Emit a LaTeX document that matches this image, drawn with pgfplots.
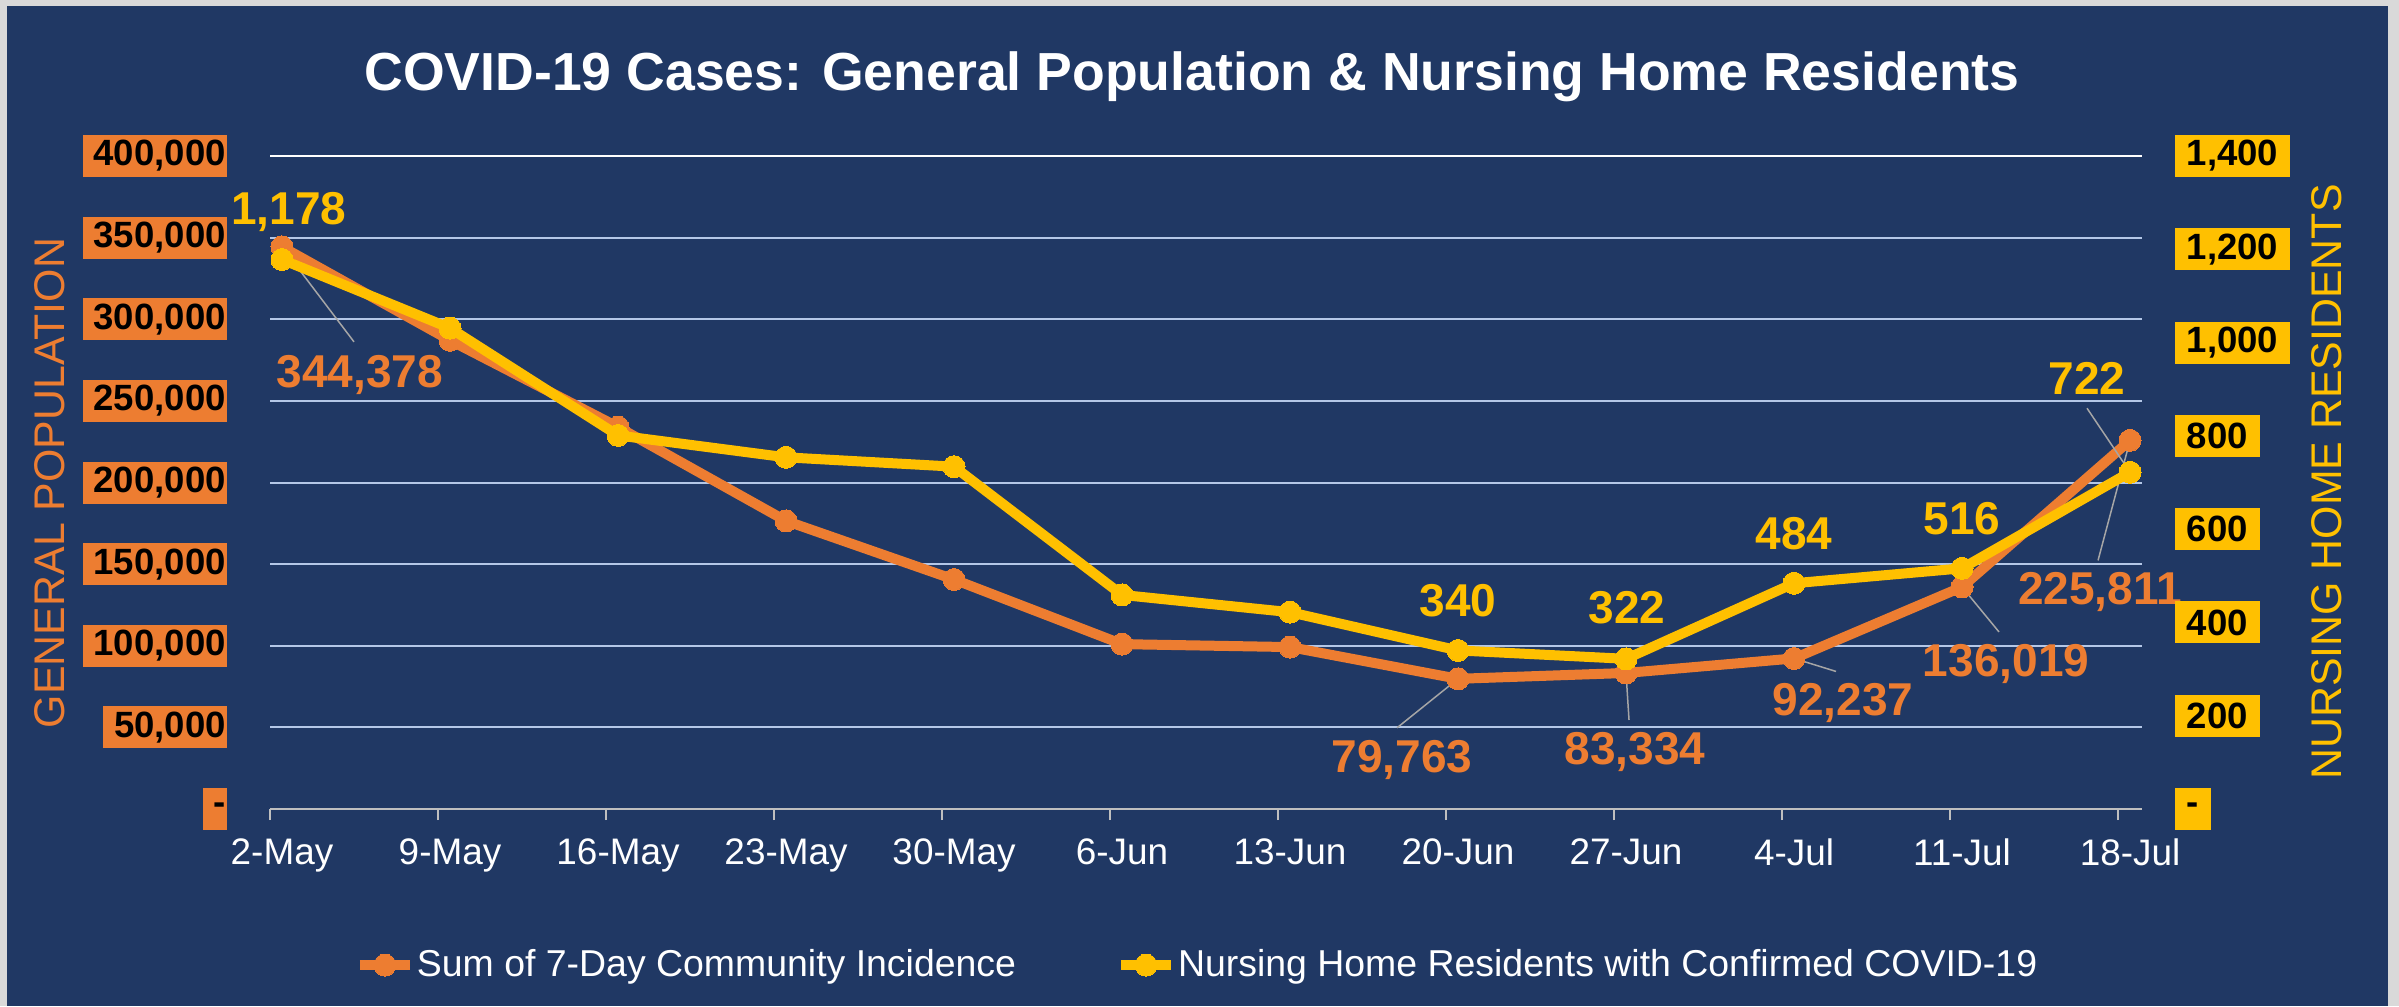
\documentclass[border=0pt]{standalone}
\usepackage{fontspec}
\setmainfont{Liberation Sans}
\usepackage{pgfplots}
\pgfplotsset{compat=1.18}
\definecolor{bg}{HTML}{203864}
\definecolor{org}{HTML}{ED7D31}
\definecolor{yel}{HTML}{FFC000}
\definecolor{grd}{HTML}{B4C7E7}
\definecolor{frm}{HTML}{D9D9D9}
\definecolor{axl}{HTML}{BFBFBF}
\definecolor{ldr}{HTML}{A6A6A6}
\newcommand\tickfont{\fontsize{10.4pt}{12pt}\selectfont}
\newcommand\lblfont{\fontsize{13.1pt}{15pt}\selectfont\bfseries}
\newcommand\LL[1]{\hbox{\hspace*{0.11cm}#1\hspace*{0.015cm}}}
\pgfplotsset{
  base/.style={at={(2.70cm,1.97cm)}, anchor=south west,
    width=18.72cm, height=6.53cm, scale only axis,
    xmin=-0.0714, xmax=11.0714, clip=false, major tick length=0pt,
    scaled y ticks=false},
  orgline/.style={color=org, line width=0.1cm, line join=round, mark=*, mark size=0.11cm, mark options={fill=org, draw=org, line width=0pt}},
  yelline/.style={color=yel, line width=0.1cm, line join=round, mark=*, mark size=0.11cm, mark options={fill=yel, draw=yel, line width=0pt}},
}
\begin{document}
\begin{tikzpicture}
\path[use as bounding box] (0,0) rectangle (23.99,10.06);
\fill[frm] (0,0) rectangle (23.99,10.06);
\fill[bg] (0.07,0) rectangle (23.88,10.00);
\node[anchor=base, text=white, font=\fontsize{15.25pt}{18pt}\selectfont\bfseries] at (11.92,9.16) {COVID-19 Cases: General Population \& Nursing Home Residents};
\node[rotate=90, text=org, font=\fontsize{12.2pt}{14pt}\selectfont, inner sep=0pt] at (0.50,5.23) {GENERAL POPULATION};
\node[rotate=90, text=yel, font=\fontsize{12.2pt}{14pt}\selectfont, inner sep=0pt] at (23.27,5.24) {NURSING HOME RESIDENTS};

\begin{axis}[base,
  ymin=0, ymax=400000,
  axis x line*=bottom, axis y line*=left,
  x axis line style={draw=axl, line width=0.02cm, -},
  y axis line style={draw=none},
  xtick={0,1,2,3,4,5,6,7,8,9,10,11},
  xticklabels={2-May,9-May,16-May,23-May,30-May,6-Jun,13-Jun,20-Jun,27-Jun,4-Jul,11-Jul,18-Jul},
  xticklabel style={text=white, font=\fontsize{10.5pt}{12pt}\selectfont, anchor=north, inner sep=0pt, yshift=-0.29cm},
  extra x ticks={-0.0714,0.9286,1.9286,2.9286,3.9286,4.9286,5.9286,6.9286,7.9286,8.9286,9.9286,10.9286},
  extra x tick labels={},
  extra x tick style={tick align=outside, major tick length=0.11cm, tick style={draw=axl, line width=0.02cm}},
  ytick={0,50000,100000,150000,200000,250000,300000,350000,400000},
  yticklabels={\LL{-},\LL{50,000},\LL{100,000},\LL{150,000},\LL{200,000},\LL{250,000},\LL{300,000},\LL{350,000},\LL{400,000}},
  yticklabel style={font=\tickfont\bfseries, text=black, fill=org, inner xsep=0pt, inner ysep=0pt,
    minimum height=0.42cm, anchor=east, xshift=-0.42cm},
  ymajorgrids, grid style={draw=grd, line width=0.02cm},
  extra y ticks={400000}, extra y tick labels={},
  extra y tick style={grid style={draw=white, line width=0.02cm}},
]
\addplot[orgline] coordinates {(0,344378) (1,287100) (2,234000) (3,176500) (4,140600) (5,101000) (6,99200) (7,79763) (8,83334) (9,92237) (10,136019) (11,225811)};
\draw[ldr, line width=0.015cm] (axis cs:0,344378) -- ([shift={(0.72cm,-0.95cm)}]axis cs:0,344378);
\draw[ldr, line width=0.015cm] (axis cs:7,79763) -- ([shift={(-0.61cm,-0.49cm)}]axis cs:7,79763);
\draw[ldr, line width=0.015cm] (axis cs:8,83334) -- ([shift={(0.03cm,-0.47cm)}]axis cs:8,83334);
\draw[ldr, line width=0.015cm] (axis cs:9,92237) -- ([shift={(0.42cm,-0.13cm)}]axis cs:9,92237);
\draw[ldr, line width=0.015cm] (axis cs:10,136019) -- ([shift={(0.37cm,-0.45cm)}]axis cs:10,136019);
\draw[ldr, line width=0.015cm] (axis cs:11,225811) -- ([shift={(-0.32cm,-1.20cm)}]axis cs:11,225811);
\node[text=org, font=\lblfont] at ([shift={(0.78cm,-1.285cm)}]axis cs:0,344378) {344,378};
\node[text=org, font=\lblfont] at ([shift={(-0.56cm,-0.81cm)}]axis cs:7,79763) {79,763};
\node[text=org, font=\lblfont] at ([shift={(0.09cm,-0.79cm)}]axis cs:8,83334) {83,334};
\node[text=org, font=\lblfont] at ([shift={(0.49cm,-0.45cm)}]axis cs:9,92237) {92,237};
\node[text=org, font=\lblfont] at ([shift={(0.44cm,-0.77cm)}]axis cs:10,136019) {136,019};
\node[text=org, font=\lblfont] at ([shift={(-0.30cm,-1.52cm)}]axis cs:11,225811) {225,811};
\end{axis}

\begin{axis}[base,
  ymin=0, ymax=1400,
  hide x axis,
  axis y line*=right,
  y axis line style={draw=none},
  ytick={0,200,400,600,800,1000,1200,1400},
  yticklabels={-,200,400,600,800,{1,000},{1,200},{1,400}},
  yticklabel style={font=\tickfont\bfseries, text=black, fill=yel, inner xsep=0.12cm, inner ysep=0pt,
    minimum height=0.42cm, anchor=west, xshift=0.32cm},
  legend columns=2,
  legend style={at={(0.045,-0.239)}, anchor=west, draw=none, fill=none, text=white,
    font=\fontsize{10.65pt}{12pt}\selectfont, inner sep=0pt, nodes={inner sep=0pt},
    /tikz/every even column/.append style={column sep=1.0cm},
    /tikz/every odd column/.append style={column sep=0.02cm}},
  legend image code/.code={\draw[#1, mark repeat=2, mark phase=2] plot coordinates {(0cm,0cm) (0.25cm,0cm) (0.5cm,0cm)};},
]
\addlegendimage{orgline}
\addlegendentry{Sum of 7-Day Community Incidence}
\addplot[yelline] coordinates {(0,1178) (1,1031) (2,801) (3,754) (4,734) (5,459) (6,422) (7,340) (8,322) (9,484) (10,516) (11,722)};
\addlegendentry{Nursing Home Residents with Confirmed COVID-19}
\draw[ldr, line width=0.015cm] ([shift={(-0.43cm,0.64cm)}]axis cs:11,722) -- (axis cs:11,722);
\node[text=yel, font=\lblfont] at ([shift={(0.07cm,0.48cm)}]axis cs:0,1178) {1,178};
\node[text=yel, font=\lblfont] at ([shift={(0cm,0.50cm)}]axis cs:7,340) {340};
\node[text=yel, font=\lblfont] at ([shift={(0.01cm,0.51cm)}]axis cs:8,322) {322};
\node[text=yel, font=\lblfont] at ([shift={(0cm,0.50cm)}]axis cs:9,484) {484};
\node[text=yel, font=\lblfont] at ([shift={(0cm,0.50cm)}]axis cs:10,516) {516};
\node[text=yel, font=\lblfont] at ([shift={(-0.43cm,0.94cm)}]axis cs:11,722) {722};
\end{axis}
\end{tikzpicture}
\end{document}
